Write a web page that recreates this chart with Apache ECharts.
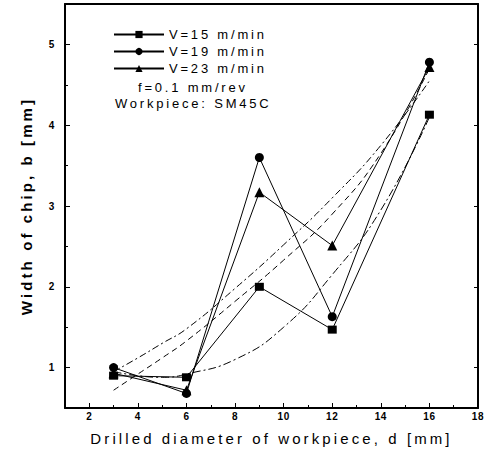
<!DOCTYPE html>
<html>
<head>
<meta charset="utf-8">
<script src="https://cdn.jsdelivr.net/npm/echarts@6/dist/echarts.min.js"></script>
<style>
  html, body { margin: 0; padding: 0; background: #fff; }
  #chart { width: 496px; height: 455px; }
  /* the scanned figure uses widely spaced lettering */
  #chart text { letter-spacing: 2.8px; }
  #chart text[style*="15px"] { letter-spacing: 3.1px; }
  #chart text[style*="10px"] { letter-spacing: 0.6px; }
</style>
</head>
<body>
<div id="chart"></div>
<script>
var diameters = [3, 6, 9, 12, 16];
var widthV15 = [0.90, 0.88, 2.00, 1.47, 4.13];
var widthV19 = [1.00, 0.68, 3.60, 1.63, 4.78];
var widthV23 = [0.93, 0.72, 3.17, 2.51, 4.72];

// fitted curves
var fitX = [3, 4, 5, 6, 8, 10, 12, 14, 16];
var fitV15 = [0.95, 0.90, 0.88, 0.92, 1.10, 1.50, 2.15, 2.95, 4.10];
var fitV19 = [0.72, 0.92, 1.12, 1.33, 1.82, 2.33, 2.90, 3.65, 4.70];
var fitV23 = [0.95, 1.12, 1.30, 1.48, 1.98, 2.52, 3.10, 3.75, 4.55];

var xMajor = [2, 4, 6, 8, 10, 12, 14, 16, 18];
var xMinor = [3, 5, 7, 9, 11, 13, 15, 17];
var yMajor = [1, 2, 3, 4, 5];
var yMinor = [1.5, 2.5, 3.5, 4.5];

var seriesNames = ['V=15 m/min', 'V=19 m/min', 'V=23 m/min'];

function pairs(xs, ys) {
	return xs.map(function(x, i) { return [x, ys[i]]; });
}

var font = 'Liberation Sans, Arial, sans-serif';

var myChart = echarts.init(document.getElementById('chart'), null, { renderer: 'svg' });

var dataSeries = [
	{ name: seriesNames[0], ys: widthV15, symbol: 'rect', size: [9, 8] },
	{ name: seriesNames[1], ys: widthV19, symbol: 'circle', size: 9 },
	{ name: seriesNames[2], ys: widthV23, symbol: 'triangle', size: 10 }
].map(function(s) {
	return {
		name: s.name,
		type: 'line',
		data: pairs(diameters, s.ys),
		symbol: s.symbol,
		symbolSize: s.size,
		itemStyle: { color: '#000' },
		lineStyle: { color: '#000', width: 1 },
		z: 3
	};
});

var fitSeries = [
	{ ys: fitV15, dash: [8, 3, 2, 3] },
	{ ys: fitV19, dash: [6, 4] },
	{ ys: fitV23, dash: [7, 3, 2, 3] }
].map(function(f) {
	return {
		type: 'line',
		data: pairs(fitX, f.ys),
		smooth: true,
		showSymbol: false,
		lineStyle: { color: '#000', width: 1, type: f.dash },
		silent: true,
		z: 2
	};
});

var option = {
	animation: false,
	backgroundColor: '#fff',
	grid: { left: 65, right: 18, top: 4, bottom: 47 },
	legend: {
		data: seriesNames,
		orient: 'vertical',
		left: 108,
		top: 23,
		itemWidth: 50,
		itemHeight: 9,
		itemGap: 4,
		textStyle: { fontFamily: font, fontSize: 13, color: '#000' }
	},
	graphic: [
		{ type: 'text', left: 138, top: 81, style: { text: 'f=0.1 mm/rev', font: '13px ' + font, fill: '#000' } },
		{ type: 'text', left: 115, top: 97, style: { text: 'Workpiece: SM45C', font: '13px ' + font, fill: '#000' } }
	],
	xAxis: [{
		type: 'value',
		min: 1,
		max: 18,
		position: 'bottom',
		name: 'Drilled diameter of workpiece, d [mm]',
		nameLocation: 'middle',
		nameGap: 23,
		nameTextStyle: { fontFamily: font, fontSize: 15, color: '#000' },
		axisLine: { lineStyle: { color: '#000', width: 2 } },
		axisTick: { inside: true, length: 5, customValues: xMajor, lineStyle: { color: '#000' } },
		axisLabel: { customValues: xMajor, margin: 3, fontFamily: font, fontSize: 10, fontWeight: 'bold', color: '#000' },
		splitLine: { show: false }
	}, {
		type: 'value',
		min: 1,
		max: 18,
		position: 'bottom',
		axisLine: { show: false },
		axisTick: { inside: true, length: 3, customValues: xMinor, lineStyle: { color: '#000' } },
		axisLabel: { show: false },
		splitLine: { show: false }
	}, {
		type: 'value',
		min: 1,
		max: 18,
		position: 'top',
		axisLine: { lineStyle: { color: '#000', width: 2 } },
		axisTick: { show: false },
		axisLabel: { show: false },
		splitLine: { show: false }
	}],
	yAxis: [{
		type: 'value',
		min: 0.5,
		max: 5.5,
		position: 'left',
		name: 'Width of chip, b [mm]',
		nameLocation: 'middle',
		nameGap: 31,
		nameTextStyle: { fontFamily: font, fontSize: 15, fontWeight: 'bold', color: '#000' },
		axisLine: { lineStyle: { color: '#000', width: 2 } },
		axisTick: { inside: true, length: 5, customValues: yMajor, lineStyle: { color: '#000' } },
		axisLabel: { customValues: yMajor, margin: 10, fontFamily: font, fontSize: 10, fontWeight: 'bold', color: '#000' },
		splitLine: { show: false }
	}, {
		type: 'value',
		min: 0.5,
		max: 5.5,
		position: 'left',
		axisLine: { show: false },
		axisTick: { inside: true, length: 3, customValues: yMinor, lineStyle: { color: '#000' } },
		axisLabel: { show: false },
		splitLine: { show: false }
	}, {
		type: 'value',
		min: 0.5,
		max: 5.5,
		position: 'right',
		axisLine: { lineStyle: { color: '#000', width: 2 } },
		axisTick: { inside: true, length: 4, customValues: yMajor, lineStyle: { color: '#000' } },
		axisLabel: { show: false },
		splitLine: { show: false }
	}],
	series: dataSeries.concat(fitSeries)
};
myChart.setOption(option);
</script>
</body>
</html>
